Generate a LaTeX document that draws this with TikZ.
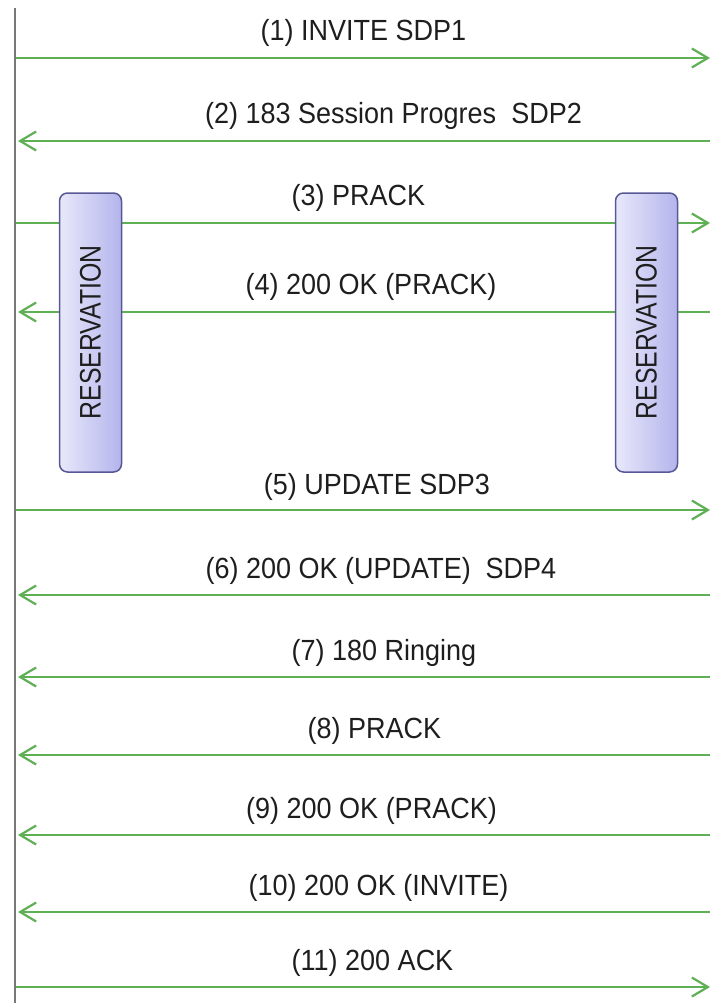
\documentclass[tikz,border=0pt]{standalone}
\usepackage{fontspec}
\setmainfont{Liberation Sans}
\usetikzlibrary{arrows.meta}
\definecolor{msg}{RGB}{95,175,85}
\definecolor{txt}{RGB}{30,30,30}
\definecolor{life}{RGB}{120,120,120}
\definecolor{resL}{RGB}{232,232,251}
\definecolor{resR}{RGB}{180,180,236}
\definecolor{resborder}{RGB}{88,88,150}
\newcommand{\lbltext}[1]{\scalebox{1}[1.08]{#1}}
\begin{document}
\begin{tikzpicture}[x=1pt,y=-1pt,
  msgline/.style={draw=msg,line width=2.2pt,-{Straight Barb[length=16pt,width=19pt]}},
  lbl/.style={anchor=base,inner sep=0pt,text=txt,font=\fontsize{27}{30}\selectfont},
  resbox/.style={draw=resborder,line width=1.5pt,rounded corners=8pt,left color=resL,right color=resR,
    minimum width=62pt,minimum height=279pt,inner sep=0pt,text=txt,font=\fontsize{27}{30}\selectfont},
  lifeline/.style={draw=life,line width=2.7pt}]
\useasboundingbox (0,0) rectangle (711,1003);
% lifeline
\coordinate (lifetop) at (15,8);
\coordinate (lifebot) at (15,1003);
\draw[lifeline] (lifetop) -- (lifebot);
% end points
\foreach \i/\y in {1/58,2/141,3/223,4/312,5/510,6/595,7/677,8/755,9/835,10/912,11/987}{
  \coordinate (L\i) at (16,\y);
  \coordinate (R\i) at (710,\y);
}
% messages
\draw[msgline] (L1) -- (R1);
\draw[msgline] (R2) -- ([xshift=2pt]L2);
\draw[msgline] (L3) -- (R3);
\draw[msgline] (R4) -- ([xshift=2pt]L4);
\draw[msgline] (L5) -- (R5);
\draw[msgline] (R6) -- ([xshift=2pt]L6);
\draw[msgline] (R7) -- ([xshift=2pt]L7);
\draw[msgline] (R8) -- ([xshift=2pt]L8);
\draw[msgline] (R9) -- ([xshift=2pt]L9);
\draw[msgline] (R10) -- ([xshift=2pt]L10);
\draw[msgline] (L11) -- (R11);
% labels
\node[lbl] (t1) at (363.5,41) {\lbltext{(1) INVITE SDP1}};
\node[lbl] (t2) at (393.5,124) {\lbltext{(2) 183 Session Progres\ \ SDP2}};
\node[lbl] (t3) at (358.5,205) {\lbltext{(3) PRACK}};
\node[lbl] (t4) at (371,294) {\lbltext{(4) 200 OK (PRACK)}};
\node[lbl] (t5) at (377,494) {\lbltext{(5) UPDATE SDP3}};
\node[lbl] (t6) at (381,578) {\lbltext{(6) 200 OK (UPDATE)\ \ SDP4}};
\node[lbl] (t7) at (384,660) {\lbltext{(7) 180 Ringing}};
\node[lbl] (t8) at (374.5,738) {\lbltext{(8) PRACK}};
\node[lbl] (t9) at (371.5,818) {\lbltext{(9) 200 OK (PRACK)}};
\node[lbl] (t10) at (378.5,895) {\lbltext{(10) 200 OK (INVITE)}};
\node[lbl] (t11) at (372.5,970) {\lbltext{(11) 200 ACK}};
% reservation boxes
\node[resbox] (resA) at (90.5,332.5) {\rotatebox{90}{\scalebox{0.92}[1.1]{RESERVATION}}};
\node[resbox] (resB) at (646.5,332.5) {\rotatebox{90}{\scalebox{0.92}[1.1]{RESERVATION}}};
\end{tikzpicture}
\end{document}
